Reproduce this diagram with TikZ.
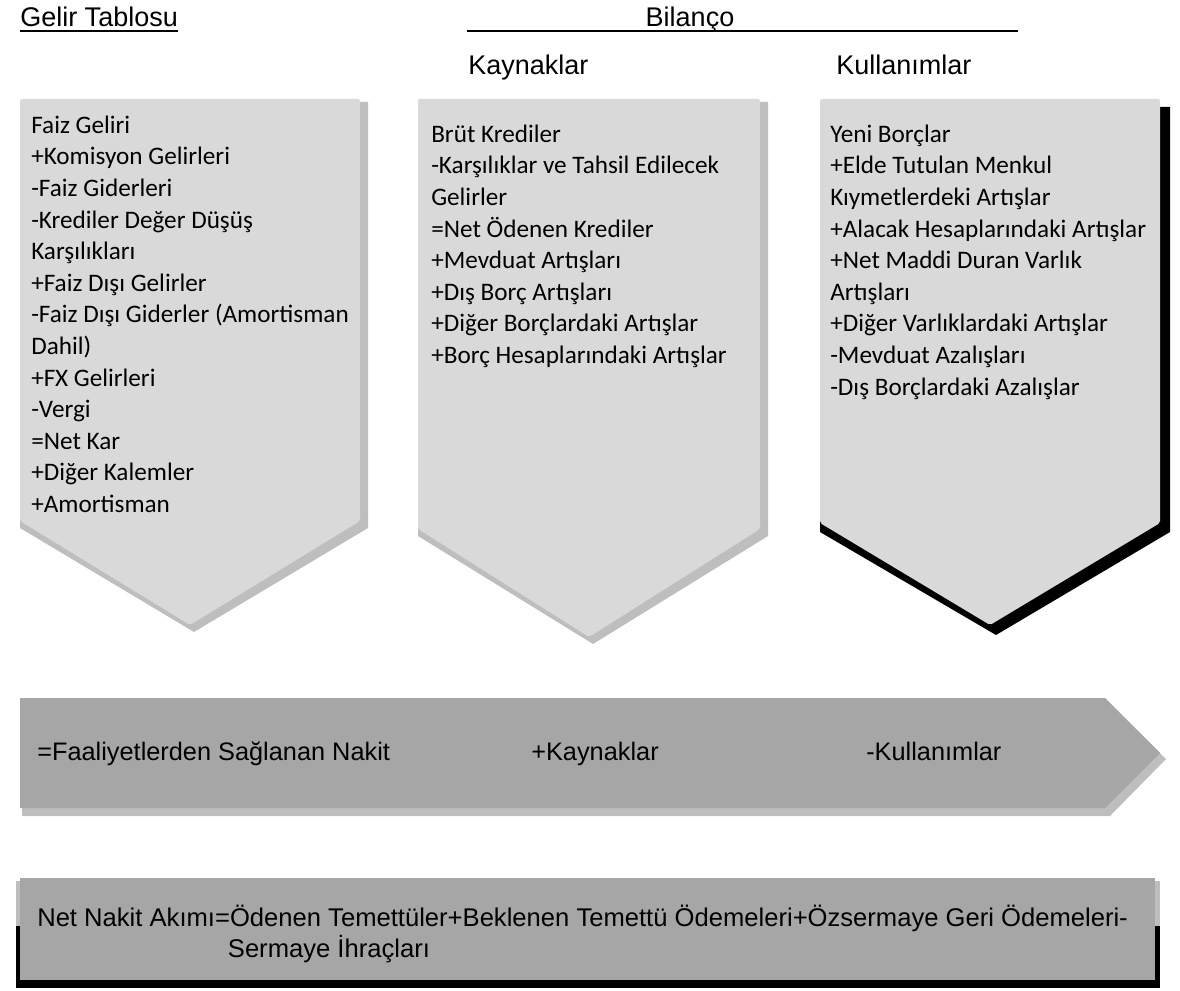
\documentclass[tikz,border=0pt]{standalone}
\usepackage{fontspec}
\setmainfont{Liberation Sans}
\newfontfamily\calfont{Carlito}
\definecolor{boxfill}{HTML}{D9D9D9}
\definecolor{barfill}{HTML}{A6A6A6}
\definecolor{stip}{HTML}{BEBEBE}
\tikzset{
  hdr/.style={font=\fontsize{20.25}{24}\selectfont, anchor=base west, inner sep=0pt},
  items/.style={font=\calfont\fontsize{18.9}{23.7}\selectfont, align=left, anchor=north west, inner sep=0pt},
  bartxt/.style={font=\fontsize{19}{23.25}\selectfont, anchor=base west, inner sep=0pt},
  bartwo/.style={font=\fontsize{19.2}{23.25}\selectfont, align=left, anchor=north west, inner sep=0pt},
  boxshape/.style={fill=boxfill},
  barshape/.style={fill=barfill},
  lightshadow/.style={fill=stip},
  darkshadow/.style={fill=black},
  uline/.style={line width=1.4pt},
}
\newcommand\firstline{\rule{0pt}{15pt}}
\begin{document}
\begin{tikzpicture}[x=0.75pt,y=-0.75pt]
\useasboundingbox (0,0) rectangle (1180,991);

% headers
\node[hdr] (gelir) at (20,27) {Gelir Tablosu};
\draw[uline] ([yshift=-3pt]gelir.base west) -- ([yshift=-3pt]gelir.base east);
\node[hdr, anchor=base] (bilanco) at (690,27) {Bilanço};
\coordinate (bl) at (467,31);
\coordinate (br) at (1018,31);
\draw[uline] (bl) -- (br);
\node[hdr] (kaynak) at (468,75) {Kaynaklar};
\node[hdr] (kullanim) at (836,75) {Kullanımlar};

% pentagon 1
\fill[lightshadow] (22,102) -- (368,102) -- (368,528) -- (194,632) -- (20,528) -- cycle;
\fill[boxshape, rounded corners=1.5pt] (20,99) -- (360,99) -- (360,521) -- (190,625) -- (20,521) -- cycle;
\node[items] (gt) at (31,113) {\firstline Faiz Geliri\\+Komisyon Gelirleri\\-Faiz Giderleri\\-Krediler Değer Düşüş\\Karşılıkları\\+Faiz Dışı Gelirler\\-Faiz Dışı Giderler (Amortisman\\Dahil)\\+FX Gelirleri\\-Vergi\\=Net Kar\\+Diğer Kalemler\\+Amortisman};

% pentagon 2
\fill[lightshadow] (420,102) -- (768,102) -- (768,536) -- (593,644) -- (418,536) -- cycle;
\fill[boxshape, rounded corners=1.5pt] (418,99) -- (760,99) -- (760,529) -- (589,637) -- (418,529) -- cycle;
\node[items] (ky) at (431,122) {\firstline Brüt Krediler\\-Karşılıklar ve Tahsil Edilecek\\Gelirler\\=Net Ödenen Krediler\\+Mevduat Artışları\\+Dış Borç Artışları\\+Diğer Borçlardaki Artışlar\\+Borç Hesaplarındaki Artışlar};

% pentagon 3
\fill[darkshadow] (822,107) -- (1170,107) -- (1170,532) -- (996,635) -- (820,532) -- cycle;
\fill[boxshape, rounded corners=1.5pt] (820,99) -- (1160,99) -- (1160,523) -- (990,625) -- (820,523) -- cycle;
\node[items] (kl) at (830,122) {\firstline Yeni Borçlar\\+Elde Tutulan Menkul\\Kıymetlerdeki Artışlar\\+Alacak Hesaplarındaki Artışlar\\+Net Maddi Duran Varlık\\Artışları\\+Diğer Varlıklardaki Artışlar\\-Mevduat Azalışları\\-Dış Borçlardaki Azalışlar};

% bar 1
\fill[lightshadow] (22,704) -- (1110,704) -- (1166,759) -- (1110,816) -- (22,816) -- cycle;
\fill[barshape] (20,698) -- (1105,698) -- (1160,753) -- (1105,808) -- (20,808) -- cycle;
\node[bartxt] (fn) at (37,760) {=Faaliyetlerden Sağlanan Nakit};
\node[bartxt] (pk) at (531,760) {+Kaynaklar};
\node[bartxt] (mk) at (866,760) {-Kullanımlar};

% bar 2
\fill[lightshadow] (16,881) rectangle (1160,926);
\fill[darkshadow] (16,926) rectangle (1160,988);
\fill[barshape] (20,878) rectangle (1155,980);
\node[bartwo] (nn) at (37,905) {\firstline Net Nakit Akımı=Ödenen Temettüler+Beklenen Temettü Ödemeleri+Özsermaye Geri Ödemeleri-\\\hspace*{143pt}Sermaye İhraçları};
\end{tikzpicture}
\end{document}
